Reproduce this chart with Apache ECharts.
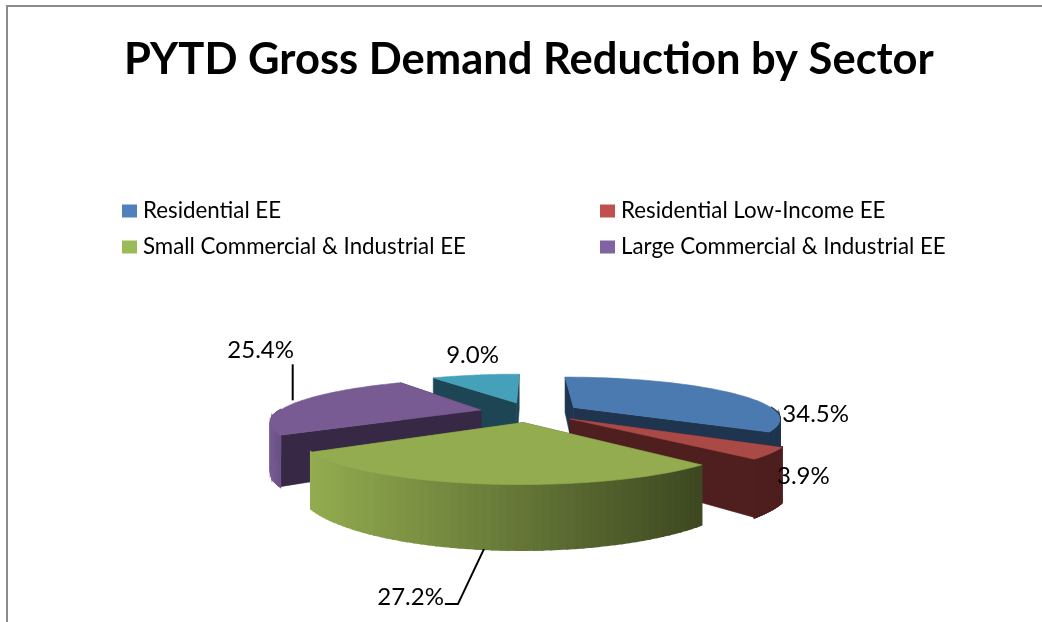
<!DOCTYPE html>
<html><head><meta charset="utf-8">
<style>html,body{margin:0;padding:0;background:#fff}#c{width:1042px;height:622px}</style>
<script src="https://cdn.jsdelivr.net/npm/echarts@6/dist/echarts.min.js"></script>
</head><body><div id="c"></div>
<script>
const chartTitle = 'PYTD Gross Demand Reduction by Sector';
const sectors = ['Residential EE','Residential Low-Income EE','Small Commercial & Industrial EE','Large Commercial & Industrial EE','Other'];
const shares = [34.5, 3.9, 27.2, 25.4, 9.0];
const topColors = ['#4a7aaf','#aa4a47','#93ac50','#785b93','#45a0b9'];
const legendColors = ['#4f81bd','#c0504d','#9bbb59','#8064a2'];
const wallColors = ['#1f344f','#4f1f1f','#4d5a28','#372945','#1d4553'];
const arcFrom = [[31,52,79],[79,31,31],[147,172,80],[120,91,147],[29,69,83]];
const arcTo   = [[31,52,79],[79,31,31],[61,72,33],[106,80,133],[29,69,83]];
// label placement relative to the slice's outer-arc midpoint
const labelOffset = [[90,23],[33,23],[-40,48],[-36,-52],[-3,-20]];
const leaders = [null,null,[[0,0],[-26,55],[-39,55]],[[-4,-2],[-4,-38]],null];
const legendPos = [[122,200],[600,200],[122,236],[600,236]];

// 3D projection
const cx=530, cy=412, A=203, B=40, D=4, EXPLODE=0.25, THICK=45;
const f = Y => D/(D-Y);
const proj = (X,Y) => { const s=f(Y); return [cx+X*A*s, cy+Y*B*s]; };

const total = shares.reduce((a,b)=>a+b,0);
const starts = []; shares.reduce((a,v,i)=>(starts[i]=a, a+v),0);

function renderSlice(i){
  return function(params, api){
    const v = api.value(0);
    const a0 = starts[i]/total*2*Math.PI, a1 = a0 + v/total*2*Math.PI, am=(a0+a1)/2;
    const ox = Math.sin(am)*EXPLODE, oy = -Math.cos(am)*EXPLODE;
    const rim = a => [ox+Math.sin(a), oy-Math.cos(a)];
    const P = a => { const w=rim(a); return proj(w[0],w[1]); };
    const H = a => THICK*f(rim(a)[1]);
    const down = (p,h) => [p[0],p[1]+h];
    const apex = proj(ox,oy), apexH = THICK*f(oy);
    const n=60, arc=[];
    for(let k=0;k<=n;k++) arc.push(a0+(a1-a0)*k/n);
    const z0 = apex[1];
    const kids=[];
    const poly=(pts,fill,z,lw)=>kids.push({type:'polygon',shape:{points:pts},z2:z0*10+z,silent:true,
        style:{fill:fill,stroke:fill,lineWidth:lw||0.6}});
    // radial walls, far one first
    const walls=[a0,a1].sort((p,q)=>rim(p)[1]-rim(q)[1]);
    walls.forEach((a,j)=>{
      const p=P(a);
      poly([apex,p,down(p,H(a)),down(apex,apexH)],wallColors[i],j);
    });
    // outer wall, front part only, shaded from left to right
    const front=arc.filter(a=>Math.cos(a)<=0);
    if(front.length>1){
      const xs=front.map(a=>P(a)[0]), lo=Math.min.apply(null,xs), hi=Math.max.apply(null,xs);
      const order=front.slice(0,-1).map((a,k)=>k);
      if(P(front[0])[0]>P(front[front.length-1])[0]) order.reverse();
      order.forEach(k=>{
        const p=P(front[k]), q=P(front[k+1]);
        const t=hi>lo?((p[0]+q[0])/2-lo)/(hi-lo):0;
        const c=arcFrom[i].map((u,j)=>Math.round(u+(arcTo[i][j]-u)*t));
        poly([p,q,down(q,H(front[k+1])),down(p,H(front[k]))],'rgb('+c.join(',')+')',2,2);
      });
    }
    // top face
    poly([apex].concat(arc.map(P)),topColors[i],3);
    // label
    const m=P(am);
    const anchor = (i===2)? down(m,H(am)) : m;
    const off=labelOffset[i];
    kids.push({type:'text',z2:20000,silent:true,style:{text:v.toFixed(1)+'%',x:anchor[0]+off[0],y:anchor[1]+off[1],
      font:'24px Lato, sans-serif',fill:'#000',align:i===2?'right':'center',verticalAlign:'middle'}});
    if(leaders[i]){
      kids.push({type:'polyline',z2:19999,silent:true,shape:{points:leaders[i].map(d=>[anchor[0]+d[0],anchor[1]+d[1]])},
        style:{stroke:'#000',lineWidth:2,fill:null}});
    }
    return {type:'group',children:kids};
  };
}

const chart = echarts.init(document.getElementById('c'),null,{renderer:'canvas'});
chart.setOption({
  animation:false,
  backgroundColor:'#fff',
  title:{text:chartTitle,left:124,top:38,padding:0,textStyle:{fontFamily:'Lato, sans-serif',fontWeight:'bold',fontSize:43.5,color:'#000'}},
  legend: legendPos.map((p,i)=>({
    data:[{name:sectors[i],icon:'rect',itemStyle:{color:legendColors[i]}}],
    left:p[0],top:p[1],padding:0,itemWidth:15,itemHeight:13,itemGap:0,selectedMode:false,
    textStyle:{fontFamily:'Lato, sans-serif',fontSize:22.3,color:'#000',padding:[0,0,0,1]}
  })),
  graphic:[{type:'rect',z:-1,silent:true,shape:{x:7,y:6,width:1200,height:800},style:{fill:'#fff',stroke:'#8c8c8c',lineWidth:2}}],
  series: sectors.map((name,i)=>({
    type:'custom',name:name,coordinateSystem:'none',silent:true,clip:false,
    itemStyle:{color:topColors[i]},
    data:[[shares[i]]],
    renderItem:renderSlice(i)
  }))
});
</script></body></html>
